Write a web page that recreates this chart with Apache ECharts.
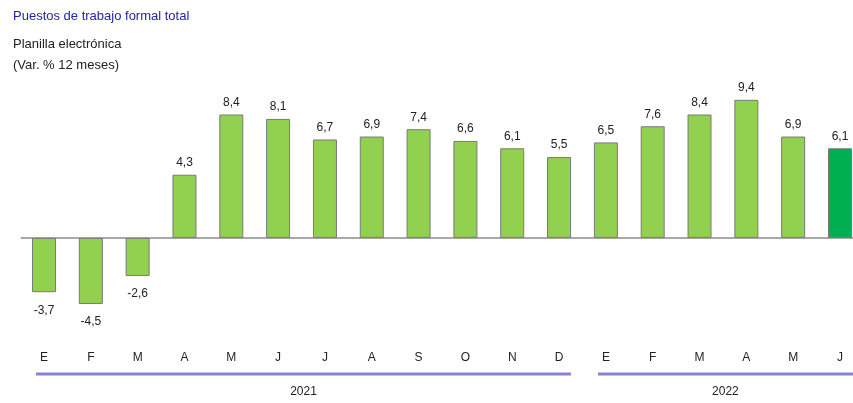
<!DOCTYPE html>
<html>
<head>
<meta charset="utf-8">
<script src="https://cdn.jsdelivr.net/npm/echarts@6/dist/echarts.min.js"></script>
<style>
  html, body { margin: 0; padding: 0; background: #fff; }
  #chart { width: 853px; height: 403px; }
</style>
</head>
<body>
<div id="chart"></div>
<script>
// meses (E..D 2021, E..J 2022)
var months = ['E', 'F', 'M', 'A', 'M', 'J', 'J', 'A', 'S', 'O', 'N', 'D', 'E', 'F', 'M', 'A', 'M', 'J']
// var. % 12 meses
var values = [-3.7, -4.5, -2.6, 4.3, 8.4, 8.1, 6.7, 6.9, 7.4, 6.6, 6.1, 5.5, 6.5, 7.6, 8.4, 9.4, 6.9, 6.1]
// grupos de años: [etiqueta, índice inicial, índice final]
var years = [['2021', 0, 11], ['2022', 12, 17]]

var barColor = '#92d050'
var lastColor = '#00b050'
var font = 'Arial, "Liberation Sans", sans-serif'

var chart = echarts.init(document.getElementById('chart'))

var option = {
  animation: false,
  title: [
    {
      text: 'Puestos de trabajo formal total',
      left: 8, top: 5,
      textStyle: { color: '#2424a8', fontSize: 13, fontWeight: 'normal', fontFamily: font }
    },
    {
      text: 'Planilla electrónica\n(Var. % 12 meses)',
      left: 8, top: 29,
      textStyle: { color: '#222', fontSize: 13, fontWeight: 'normal', fontFamily: font, lineHeight: 21 }
    }
  ],
  grid: { left: 20.6, width: 842.8, top: 91, bottom: 77, outerBoundsMode: 'none', containLabel: false },
  xAxis: {
    type: 'category',
    data: months,
    axisLine: { show: false, onZero: false },
    axisTick: { show: false },
    axisLabel: { color: '#222', fontSize: 12, fontFamily: font, margin: 26 }
  },
  yAxis: {
    type: 'value',
    min: -6, max: 10,
    show: false
  },
  series: [{
    type: 'bar',
    barWidth: 24,
    data: values.map(function (v, i) {
      return {
        value: v,
        itemStyle: { color: i === values.length - 1 ? lastColor : barColor },
        label: { position: v < 0 ? 'bottom' : 'top', distance: v < 0 ? 12 : 6 }
      }
    }),
    itemStyle: { borderColor: '#7a7a7a', borderWidth: 1 },
    label: {
      show: true,
      color: '#222',
      fontSize: 12,
      fontFamily: font,
      formatter: function (p) { return String(p.value).replace('.', ',') }
    },
    markLine: {
      silent: true,
      symbol: 'none',
      label: { show: false },
      lineStyle: { color: '#a8a8a8', width: 2, type: 'solid' },
      data: [{ yAxis: 0 }],
      z: 1
    },
    z: 3
  }]
}

chart.setOption(option)

// líneas y etiquetas de años, calculadas con la escala del eje
var graphics = []
years.forEach(function (y, k) {
  var x0 = chart.convertToPixel({ xAxisIndex: 0 }, y[1]) - 8
  var x1 = chart.convertToPixel({ xAxisIndex: 0 }, y[2]) + 12
  if (k === years.length - 1) x1 = 853
  graphics.push({
    type: 'line',
    shape: { x1: x0, y1: 374, x2: x1, y2: 374 },
    style: { stroke: '#8585d6', lineWidth: 3 }
  })
  graphics.push({
    type: 'text',
    x: (x0 + x1) / 2, y: 392,
    style: { text: y[0], fill: '#222', font: '12px ' + font, textAlign: 'center', textVerticalAlign: 'middle' }
  })
})
chart.setOption({ graphic: graphics })
</script>
</body>
</html>
